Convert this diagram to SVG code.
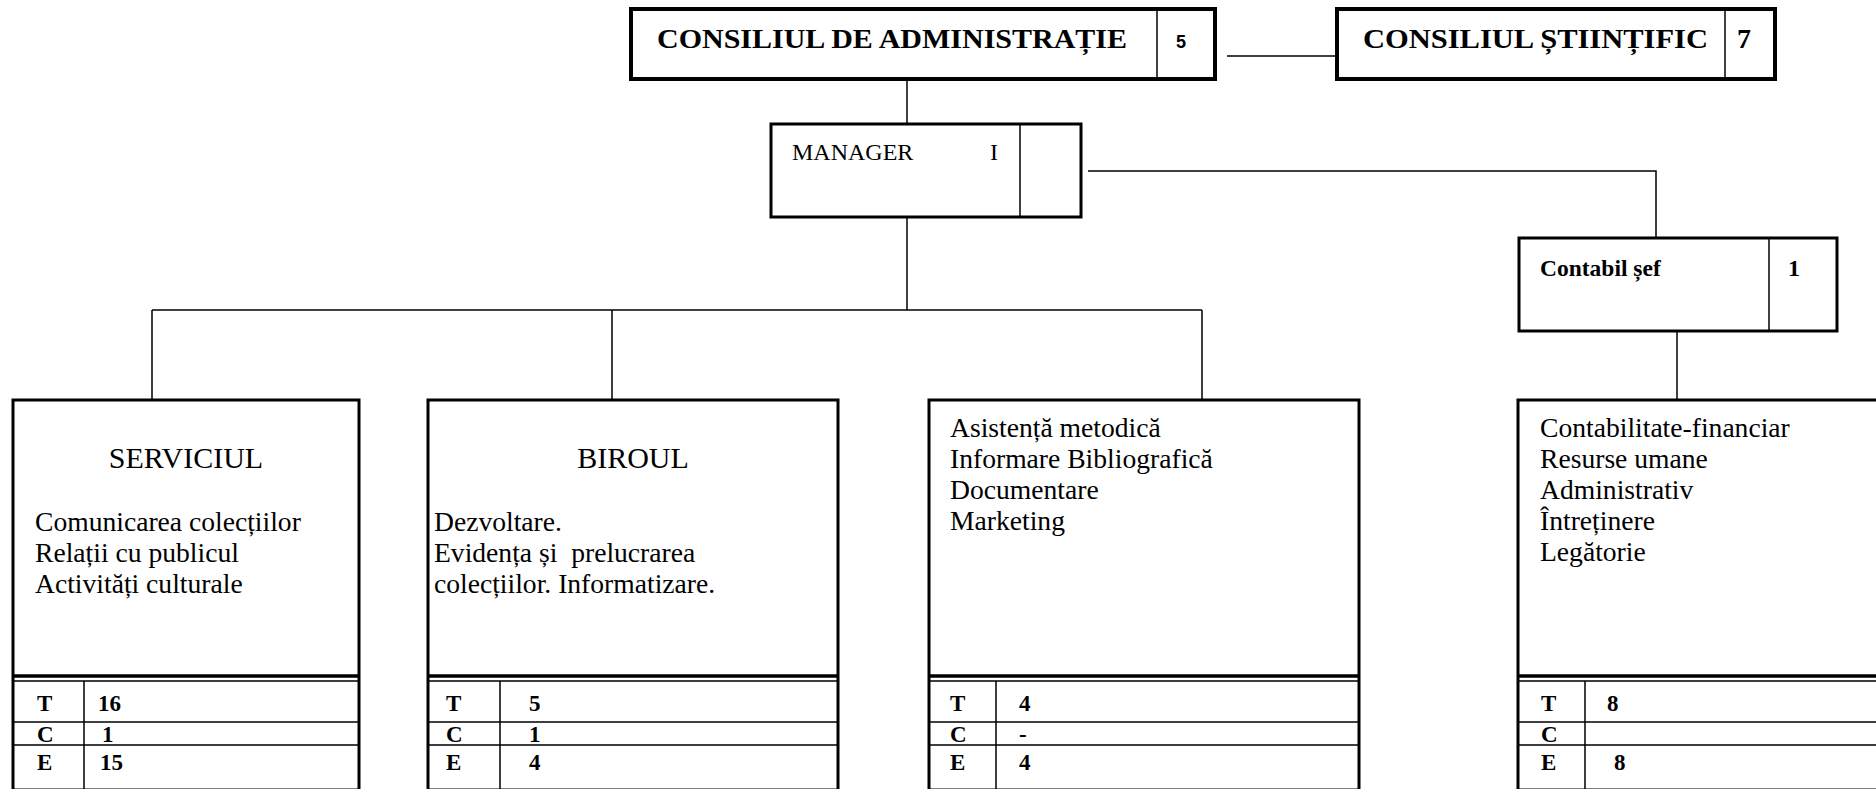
<svg xmlns="http://www.w3.org/2000/svg" width="1876" height="789" viewBox="0 0 1876 789">
<style>
.box{fill:#fff;stroke:#000;stroke-width:3}
.bold4{fill:#fff;stroke:#000;stroke-width:4}
.ln{stroke:#000;stroke-width:1.5;fill:none}
.thick{stroke:#000;stroke-width:3.5;fill:none}
text{font-family:"Liberation Serif","Times New Roman",serif;fill:#000}
.t{font-size:27.6px}
.h{font-size:30px}
.b{font-weight:bold}
.tb{font-size:23px;font-weight:bold}
</style>
<rect width="1876" height="789" fill="#fff"/>
<g id="connectors">
<path class="ln" d="M1227 56H1337"/>
<path class="ln" d="M907 79V124"/>
<path class="ln" d="M1088 171H1656V238"/>
<path class="ln" d="M907 217V310"/>
<path class="ln" d="M152 310H1202"/>
<path class="ln" d="M152 310V400M612 310V400M1202 310V400"/>
<path class="ln" d="M1677 331V400"/>
</g>
<g id="consiliul-administratie">
<rect class="bold4" x="631" y="9" width="584" height="70"/>
<path class="ln" d="M1157 9V79"/>
<text class="b" x="657" y="48" font-size="28" textLength="470" lengthAdjust="spacingAndGlyphs">CONSILIUL DE ADMINISTRAȚIE</text>
<text x="1176" y="48" font-size="18" font-weight="bold" style="font-family:'Liberation Sans',Arial,sans-serif">5</text>
</g>
<g id="consiliul-stiintific">
<rect class="bold4" x="1337" y="9" width="438" height="70"/>
<path class="ln" d="M1725 9V79"/>
<text class="b" x="1363" y="48" font-size="28" textLength="345" lengthAdjust="spacingAndGlyphs">CONSILIUL ȘTIINȚIFIC</text>
<text class="b" x="1737" y="48" font-size="28">7</text>
</g>
<g id="manager">
<rect class="box" x="771" y="124" width="310" height="93"/>
<path class="ln" d="M1020 124V217"/>
<text x="792" y="160" font-size="24">MANAGER</text>
<text x="990" y="160" font-size="24">I</text>
</g>
<g id="contabil-sef">
<rect class="box" x="1519" y="238" width="318" height="93"/>
<path class="ln" d="M1769 238V331"/>
<text class="b" x="1540" y="276" font-size="23.5">Contabil șef</text>
<text class="b" x="1788" y="276" font-size="24">1</text>
</g>
<g id="serviciul">
<rect class="box" x="13" y="400" width="346" height="390"/>
<path class="thick" d="M13 676H359"/>
<path class="ln" d="M13 681H359M13 722H359M13 745H359M84 681V789"/>
<text class="h" x="186" y="468" text-anchor="middle">SERVICIUL</text>
<text class="t" x="35" y="531">Comunicarea colecțiilor</text>
<text class="t" x="35" y="562">Relații cu publicul</text>
<text class="t" x="35" y="593">Activități culturale</text>
<text class="tb" x="37" y="711">T</text><text class="tb" x="98" y="711">16</text>
<text class="tb" x="37" y="742">C</text><text class="tb" x="102" y="742">1</text>
<text class="tb" x="37" y="770">E</text><text class="tb" x="100" y="770">15</text>
</g>
<g id="biroul">
<rect class="box" x="428" y="400" width="410" height="390"/>
<path class="thick" d="M428 676H838"/>
<path class="ln" d="M428 681H838M428 722H838M428 745H838M500 681V789"/>
<text class="h" x="633" y="468" text-anchor="middle">BIROUL</text>
<text class="t" x="434" y="531">Dezvoltare.</text>
<text class="t" x="434" y="562" xml:space="preserve">Evidența și  prelucrarea</text>
<text class="t" x="434" y="593">colecțiilor. Informatizare.</text>
<text class="tb" x="446" y="711">T</text><text class="tb" x="529" y="711">5</text>
<text class="tb" x="446" y="742">C</text><text class="tb" x="529" y="742">1</text>
<text class="tb" x="446" y="770">E</text><text class="tb" x="529" y="770">4</text>
</g>
<g id="asistenta">
<rect class="box" x="929" y="400" width="430" height="390"/>
<path class="thick" d="M929 676H1359"/>
<path class="ln" d="M929 681H1359M929 722H1359M929 745H1359M996 681V789"/>
<text class="t" x="950" y="437">Asistență metodică</text>
<text class="t" x="950" y="468">Informare Bibliografică</text>
<text class="t" x="950" y="499">Documentare</text>
<text class="t" x="950" y="530">Marketing</text>
<text class="tb" x="950" y="711">T</text><text class="tb" x="1019" y="711">4</text>
<text class="tb" x="950" y="742">C</text><text class="tb" x="1019" y="742">-</text>
<text class="tb" x="950" y="770">E</text><text class="tb" x="1019" y="770">4</text>
</g>
<g id="contabilitate">
<rect class="box" x="1518" y="400" width="400" height="390"/>
<path class="thick" d="M1518 676H1876"/>
<path class="ln" d="M1518 681H1876M1518 722H1876M1518 745H1876M1585 681V789"/>
<text class="t" x="1540" y="437">Contabilitate-financiar</text>
<text class="t" x="1540" y="468">Resurse umane</text>
<text class="t" x="1540" y="499">Administrativ</text>
<text class="t" x="1540" y="530">Întreținere</text>
<text class="t" x="1540" y="561">Legătorie</text>
<text class="tb" x="1541" y="711">T</text><text class="tb" x="1607" y="711">8</text>
<text class="tb" x="1541" y="742">C</text>
<text class="tb" x="1541" y="770">E</text><text class="tb" x="1614" y="770">8</text>
</g>
</svg>
